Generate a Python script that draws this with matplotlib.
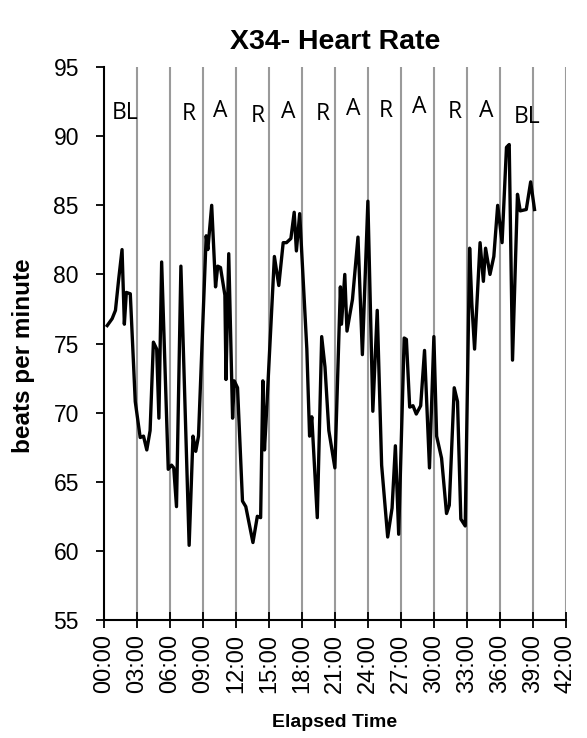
import matplotlib
matplotlib.use('Agg')
import matplotlib.pyplot as plt
import numpy as np

# elapsed time (minutes) and heart rate (bpm)
minutes = [0.3, 0.75, 1.05, 1.35, 1.65, 1.86, 2.04, 2.4, 2.85, 3.3,
           3.6, 3.9, 4.2, 4.5, 4.8, 5.0, 5.25, 5.85, 6.15, 6.35,
           6.6, 7.0, 7.75, 8.1, 8.35, 8.6, 9.3, 9.45, 9.8, 10.15,
           10.35, 10.6, 11.0, 11.1, 11.35, 11.7, 11.85, 12.15, 12.6, 12.9,
           13.55, 13.95, 14.25, 14.45, 14.6, 14.75, 15.5, 15.9, 16.3, 16.6,
           17.0, 17.3, 17.5, 17.8, 18.45, 18.7, 18.9, 19.4, 19.8, 20.1,
           20.45, 21.0, 21.5, 21.6, 21.9, 22.1, 22.6, 23.1, 23.5, 24.0,
           24.45, 24.85, 25.25, 25.8, 26.2, 26.5, 26.8, 27.3, 27.5, 27.8,
           28.1, 28.4, 28.8, 29.15, 29.6, 30.0, 30.25, 30.7, 31.15, 31.4,
           31.85, 32.15, 32.45, 32.85, 33.25, 33.45, 33.7, 34.2, 34.5, 34.7,
           35.1, 35.45, 35.8, 36.2, 36.6, 36.85, 37.15, 37.6, 37.85, 38.4,
           38.8, 39.15]
bpm = [76.3, 76.8, 77.4, 79.7, 81.8, 76.4, 78.7, 78.6, 70.8, 68.2,
       68.3, 67.3, 68.7, 75.1, 74.6, 69.6, 80.9, 65.9, 66.2, 66.0,
       63.2, 80.6, 60.4, 68.3, 67.2, 68.3, 82.8, 81.8, 85.0, 79.1,
       80.6, 80.5, 78.5, 72.4, 81.5, 69.6, 72.3, 71.8, 63.6, 63.2,
       60.6, 62.5, 62.4, 72.3, 67.3, 69.5, 81.3, 79.2, 82.3, 82.3,
       82.6, 84.5, 81.7, 84.4, 74.6, 68.3, 69.7, 62.4, 75.5, 73.3,
       68.7, 66.0, 79.1, 76.4, 80.0, 75.9, 78.2, 82.7, 74.2, 85.3,
       70.1, 77.4, 66.2, 61.0, 63.1, 67.6, 61.2, 75.4, 75.3, 70.4,
       70.5, 69.9, 70.5, 74.5, 66.0, 75.5, 68.3, 66.7, 62.7, 63.3,
       71.8, 70.8, 62.3, 61.8, 81.9, 77.9, 74.6, 82.3, 79.5, 81.9,
       80.0, 81.3, 85.0, 82.3, 89.2, 89.4, 73.8, 85.8, 84.6, 84.7,
       86.7, 84.7]

# phase labels (baseline / rest / activity)
phase_labels = ['BL', 'R', 'A', 'R', 'A', 'R', 'A', 'R', 'A', 'R', 'A', 'BL']
phase_x = [1.95, 7.7, 10.6, 14.0, 16.8, 19.9, 22.7, 25.6, 28.7, 31.9, 34.8, 38.5]
phase_y = [91.65, 91.6, 91.8, 91.5, 91.75, 91.6, 91.95, 91.8, 92.1, 91.75, 91.8, 91.4]

tick_min = list(range(0, 43, 3))
tick_labels = ['{:02d}:00'.format(m) for m in tick_min]
divider_min = list(range(3, 43, 3))

fig = plt.figure(figsize=(5.87, 7.38), dpi=100)
ax = fig.add_axes([0.177, 0.160, 0.787, 0.749])

for m in divider_min:
    ax.axvline(m, color='#9a9a9a', lw=1.5, zorder=1)

ax.plot(minutes, bpm, color='black', lw=2.4, zorder=3)

for lab, x, y in zip(phase_labels, phase_x, phase_y):
    ax.text(x, y, lab, ha='center', va='center', fontsize=16.5,
            family='Open Sans', zorder=4)

ax.set_xlim(0, 42)
ax.set_ylim(55, 95)
ax.set_xticks(tick_min)
ax.set_xticklabels(tick_labels, rotation=90, fontsize=17, family='Liberation Sans')
ax.set_yticks(range(55, 96, 5))
ax.set_yticklabels([str(v) for v in range(55, 96, 5)], fontsize=16.5, family='Liberation Sans')
ax.tick_params(axis='x', direction='inout', length=12, width=1.3, pad=4)
ax.tick_params(axis='y', direction='out', length=6, width=1.3, pad=12)

for s in ['top', 'right']:
    ax.spines[s].set_visible(False)
for s in ['left', 'bottom']:
    ax.spines[s].set_linewidth(1.5)

ax.set_title('X34- Heart Rate', fontsize=20.5, fontweight='bold',
             family='Liberation Sans', pad=13)
ax.set_ylabel('beats per minute', fontsize=17.5, fontweight='bold',
              family='Liberation Sans', labelpad=13)
ax.yaxis.label.set_y(0.478)
ax.set_xlabel('Elapsed Time', fontsize=14, fontweight='bold',
              family='Liberation Sans', labelpad=15)

plt.savefig('out.png', dpi=100)
